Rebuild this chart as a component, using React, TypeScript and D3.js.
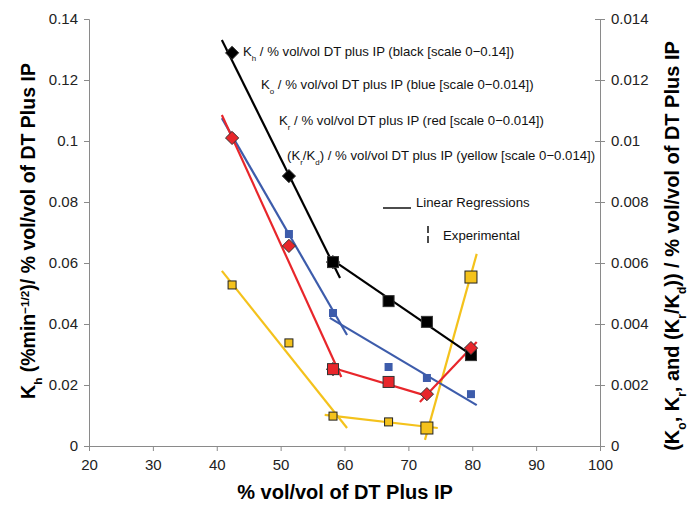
import React, { useEffect, useRef } from "react";
import * as d3 from "d3";

// x positions (% vol/vol)
const xVals = [42.4, 51.3, 58.2, 66.9, 72.9, 79.8];

// left scale (0-0.14)
const khVals = [0.1289, 0.0885, 0.0603, 0.0475, 0.0407, 0.0298];
// right scale (0-0.014)
const koVals = [0.0101, 0.00695, 0.00436, 0.00259, 0.00223, 0.0017];
const krVals = [0.0101, 0.00656, 0.00252, 0.0021, 0.0017, 0.00321];
const krkdVals = [0.00528, 0.00338, 0.00098, 0.00079, 0.00059, 0.00554];

// marker shapes per point
const khShapes = ["diamond", "diamond", "star", "square", "square", "square"];
const koShapes = ["diamond", "square", "square", "square", "square", "square"];
const krShapes = ["diamond", "diamond", "star", "square", "diamond", "diamond"];
const krkdSizes = [8, 8, 8, 8, 12, 12];

// linear regression segments [x1, y1, x2, y2]
const khFits = [
  [40.8, 0.1331, 59.3, 0.0551],
  [57.7, 0.0616, 80.3, 0.0292],
];
const koFits = [
  [40.8, 0.01075, 60.4, 0.00364],
  [57.7, 0.0042, 80.7, 0.00134],
];
const krFits = [
  [40.8, 0.01085, 59.5, 0.00226],
  [57.7, 0.00259, 73.4, 0.00161],
  [71.8, 0.00144, 80.7, 0.00341],
];
const krkdFits = [
  [40.8, 0.00574, 60.4, 0.00059],
  [56.9, 0.00102, 74.6, 0.00059],
  [72.6, 0.0002, 80.7, 0.0063],
];

const xTicks = [20, 30, 40, 50, 60, 70, 80, 90, 100];
const leftTicks = [0, 0.02, 0.04, 0.06, 0.08, 0.1, 0.12, 0.14];
const rightTicks = [0, 0.002, 0.004, 0.006, 0.008, 0.01, 0.012, 0.014];

const BLACK = "#000000";
const BLUE = "#3d5cab";
const RED = "#e8262b";
const YELLOW = "#f4c21c";
const FONT = "Liberation Sans, Arial, sans-serif";
const LEG = 13.2;

// text parts: [string, "n" | "sub" | "sup"]
const legendRows = [
  { parts: [["K", "n"], ["h", "sub"], [" / % vol/vol DT plus IP (black [scale 0\u22120.14])", "n"]], x: 243, y: 56 },
  { parts: [["K", "n"], ["o", "sub"], [" / % vol/vol DT plus IP (blue [scale 0\u22120.014])", "n"]], x: 261, y: 89 },
  { parts: [["K", "n"], ["r", "sub"], [" / % vol/vol DT plus IP (red [scale 0\u22120.014])", "n"]], x: 279, y: 125 },
  { parts: [["(K", "n"], ["r", "sub"], ["/K", "n"], ["d", "sub"], [") / % vol/vol DT plus IP (yellow [scale 0\u22120.014])", "n"]], x: 287, y: 160 },
];

const leftTitle = [["K", "n"], ["h", "sub"], [" (%min", "n"], ["\u22121/2", "sup"], [")/ % vol/vol of DT Plus IP", "n"]];
const rightTitle = [["(K", "n"], ["o", "sub"], [", K", "n"], ["r", "sub"], [", and (K", "n"], ["r", "sub"], ["/K", "n"], ["d", "sub"], [")) / % vol/vol of DT Plus IP", "n"]];

const addParts = (text, parts, size) => {
  parts.forEach(([s, kind]) => {
    const t = text.append("tspan").text(s);
    if (kind === "sub") t.attr("baseline-shift", "sub").attr("font-size", size * 0.6);
    if (kind === "sup") t.attr("baseline-shift", "super").attr("font-size", size * 0.6);
  });
};

const App = () => {
  const svgRef = useRef(null);

  useEffect(() => {
    const svg = d3.select(svgRef.current);
    svg.selectAll("*").remove();

    const x = d3.scaleLinear().domain([20, 100]).range([89, 600]);
    const yL = d3.scaleLinear().domain([0, 0.14]).range([446, 19]);
    const yR = d3.scaleLinear().domain([0, 0.014]).range([446, 19]);

    // axes
    const gx = svg.append("g").attr("transform", "translate(0,446)")
      .call(d3.axisBottom(x).tickValues(xTicks).tickSize(5).tickPadding(8).tickFormat(d3.format("d")));
    const gl = svg.append("g").attr("transform", "translate(89,0)")
      .call(d3.axisLeft(yL).tickValues(leftTicks).tickSize(5).tickPadding(6).tickFormat((d) => String(+d.toFixed(2))));
    const gr = svg.append("g").attr("transform", "translate(600,0)")
      .call(d3.axisRight(yR).tickValues(rightTicks).tickSize(5).tickPadding(6).tickFormat((d) => String(+d.toFixed(3))));
    gr.selectAll(".tick line").attr("x1", -5);
    [gx, gl, gr].forEach((g) => {
      g.select(".domain").attr("stroke", "#8a8a8a");
      g.selectAll(".tick line").attr("stroke", "#8a8a8a");
      g.selectAll(".tick text").attr("fill", "#222").style("font-size", "15px").style("font-family", FONT);
    });

    const plot = svg.append("g");

    // regression lines
    const drawFits = (fits, y, color) => {
      fits.forEach(([x1, y1, x2, y2]) => {
        plot.append("line")
          .attr("x1", x(x1)).attr("y1", y(y1))
          .attr("x2", x(x2)).attr("y2", y(y2))
          .attr("stroke", color).attr("stroke-width", 2.2);
      });
    };
    drawFits(krkdFits, yR, YELLOW);
    drawFits(koFits, yR, BLUE);
    drawFits(krFits, yR, RED);
    drawFits(khFits, yL, BLACK);

    const marker = (cx, cy, shape, size, fill, stroke) => {
      const h = size / 2;
      if (shape === "diamond" || shape === "star") {
        plot.append("path")
          .attr("d", `M${cx},${cy - h * 1.2}L${cx + h * 1.2},${cy}L${cx},${cy + h * 1.2}L${cx - h * 1.2},${cy}Z`)
          .attr("fill", fill).attr("stroke", stroke).attr("stroke-width", 1);
      }
      if (shape === "square" || shape === "star") {
        plot.append("rect")
          .attr("x", cx - h).attr("y", cy - h).attr("width", size).attr("height", size)
          .attr("fill", fill).attr("stroke", stroke).attr("stroke-width", 1);
      }
    };

    // experimental points
    xVals.forEach((v, i) => marker(x(v), yR(krkdVals[i]), "square", krkdSizes[i], YELLOW, "#222"));
    xVals.forEach((v, i) => marker(x(v), yR(koVals[i]), koShapes[i], 8, BLUE, "none"));
    xVals.forEach((v, i) => marker(x(v), yL(khVals[i]), khShapes[i], 11, BLACK, "#333"));
    xVals.forEach((v, i) => marker(x(v), yR(krVals[i]), krShapes[i], 11, RED, "#333"));

    // legend text
    legendRows.forEach((r) => {
      const t = svg.append("text").attr("x", r.x).attr("y", r.y)
        .style("font-family", FONT).style("font-size", `${LEG}px`).attr("fill", "#111");
      addParts(t, r.parts, LEG);
    });
    svg.append("line").attr("x1", 383).attr("x2", 411).attr("y1", 208).attr("y2", 208)
      .attr("stroke", "#111").attr("stroke-width", 1.5);
    svg.append("text").attr("x", 416).attr("y", 207).text("Linear Regressions")
      .style("font-family", FONT).style("font-size", `${LEG}px`).attr("fill", "#111");
    svg.append("line").attr("x1", 428).attr("x2", 428).attr("y1", 226).attr("y2", 243)
      .attr("stroke", "#111").attr("stroke-width", 1.5).attr("stroke-dasharray", "7,3");
    svg.append("text").attr("x", 443).attr("y", 240).text("Experimental")
      .style("font-family", FONT).style("font-size", `${LEG}px`).attr("fill", "#111");

    // axis titles
    svg.append("text").attr("x", 345).attr("y", 499).attr("text-anchor", "middle")
      .style("font-family", FONT).style("font-size", "20px").style("font-weight", "bold")
      .text("% vol/vol of DT Plus IP");
    const lt = svg.append("text").attr("transform", "translate(35,231) rotate(-90)")
      .attr("text-anchor", "middle")
      .style("font-family", FONT).style("font-size", "19.5px").style("font-weight", "bold");
    addParts(lt, leftTitle, 19.5);
    const rt = svg.append("text").attr("transform", "translate(679,246) rotate(-90)")
      .attr("text-anchor", "middle")
      .style("font-family", FONT).style("font-size", "20px").style("font-weight", "bold");
    addParts(rt, rightTitle, 20);
  }, []);

  return (
    <svg ref={svgRef} width={698} height={506}
      style={{ position: "absolute", left: 0, top: 0, background: "#fff" }} />
  );
};

export default App;
